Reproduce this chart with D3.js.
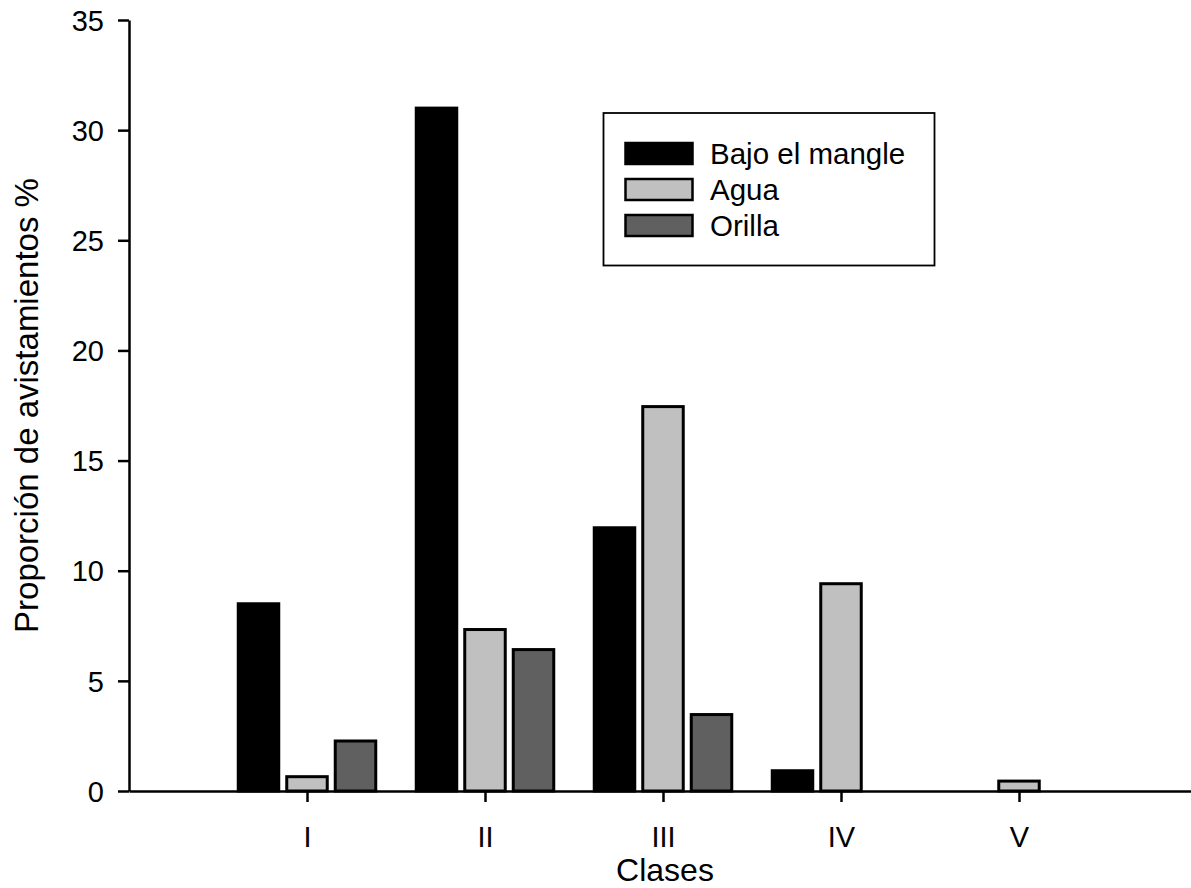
<!DOCTYPE html>
<html>
<head>
<meta charset="utf-8">
<script src="https://cdn.jsdelivr.net/npm/d3@7/dist/d3.min.js"></script>
<style>
  html, body { margin: 0; padding: 0; background: #fff; }
  svg { display: block; }
  text { font-family: "Liberation Sans", Arial, sans-serif; fill: #000; }
</style>
</head>
<body>
<svg id="chart" width="1191" height="888"></svg>
<script>
// Sighting proportions (%) per size class and habitat
const classes = ["I", "II", "III", "IV", "V"];
const seriesNames = ["Bajo el mangle", "Agua", "Orilla"];
const bajoElMangle = [8.5, 31.0, 11.95, 0.92, 0];
const agua = [0.65, 7.33, 17.45, 9.41, 0.45];
const orilla = [2.27, 6.42, 3.47, 0, 0];
const yTicks = [0, 5, 10, 15, 20, 25, 30, 35];
const colors = ["#000000", "#c0c0c0", "#606060"];

const seriesValues = [bajoElMangle, agua, orilla];

const svg = d3.select("#chart");
const plotLeft = 129, plotRight = 1197, plotTop = 20, plotBottom = 791;

// Classes sit at positions 1..5 on a 0..6 axis
const x = d3.scaleLinear().domain([0, classes.length + 1]).range([plotLeft, plotRight]);
const y = d3.scaleLinear().domain([0, 35]).range([plotBottom, plotTop]);
const inner = d3.scaleBand().domain(seriesNames).range([-70.25, 70.25]).paddingInner(0.103);
const color = d3.scaleOrdinal().domain(seriesNames).range(colors);

const rows = [];
classes.forEach((c, i) => {
  seriesNames.forEach((s, j) => {
    rows.push({ cls: c, pos: i + 1, series: s, value: seriesValues[j][i] });
  });
});

const sw = 3;
svg.append("g").selectAll("rect")
  .data(rows.filter(d => d.value > 0))
  .join("rect")
  .attr("x", d => x(d.pos) + inner(d.series) + sw / 2)
  .attr("width", inner.bandwidth() - sw)
  .attr("y", d => y(d.value))
  .attr("height", d => y(0) - y(d.value))
  .attr("fill", d => color(d.series))
  .attr("stroke", "#000")
  .attr("stroke-width", sw);

// Y axis
const yAxis = svg.append("g")
  .attr("transform", `translate(${plotLeft},0)`)
  .call(d3.axisLeft(y).tickValues(yTicks).tickSize(11).tickPadding(14).tickSizeOuter(0));
yAxis.select(".domain").attr("stroke-width", 2.5);
yAxis.selectAll(".tick line").attr("stroke-width", 2.5);
yAxis.selectAll("text").style("font-size", "29px").attr("dy", "0.35em");

// X axis
const xAxis = svg.append("g")
  .attr("transform", `translate(0,${plotBottom})`)
  .call(d3.axisBottom(x)
    .tickValues(classes.map((c, i) => i + 1))
    .tickFormat((d, i) => classes[i])
    .tickSize(11).tickPadding(24).tickSizeOuter(0));
xAxis.select(".domain").attr("stroke-width", 2.5);
xAxis.selectAll(".tick line").attr("stroke-width", 2.5);
xAxis.selectAll("text").style("font-size", "29px");

// Axis titles
svg.append("text")
  .attr("x", 665)
  .attr("y", 881)
  .attr("text-anchor", "middle")
  .style("font-size", "32px")
  .text("Clases");

svg.append("text")
  .attr("transform", `translate(38,${(plotTop + plotBottom) / 2}) rotate(-90)`)
  .attr("text-anchor", "middle")
  .style("font-size", "33px")
  .text("Proporción de avistamientos %");

// Legend
const legend = svg.append("g");
legend.append("rect")
  .attr("x", 603.5).attr("y", 113)
  .attr("width", 331).attr("height", 152.5)
  .attr("fill", "#fff").attr("stroke", "#000").attr("stroke-width", 1.8);

const items = legend.selectAll("g.item")
  .data(seriesNames)
  .join("g")
  .attr("class", "item")
  .attr("transform", (d, i) => `translate(0,${i * 36})`);
items.append("rect")
  .attr("x", 625.5).attr("y", 143)
  .attr("width", 67).attr("height", 21)
  .attr("fill", d => color(d))
  .attr("stroke", "#000").attr("stroke-width", 2.5);
items.append("text")
  .attr("x", 710)
  .attr("y", 164)
  .style("font-size", "29.5px")
  .text(d => d);
</script>
</body>
</html>
